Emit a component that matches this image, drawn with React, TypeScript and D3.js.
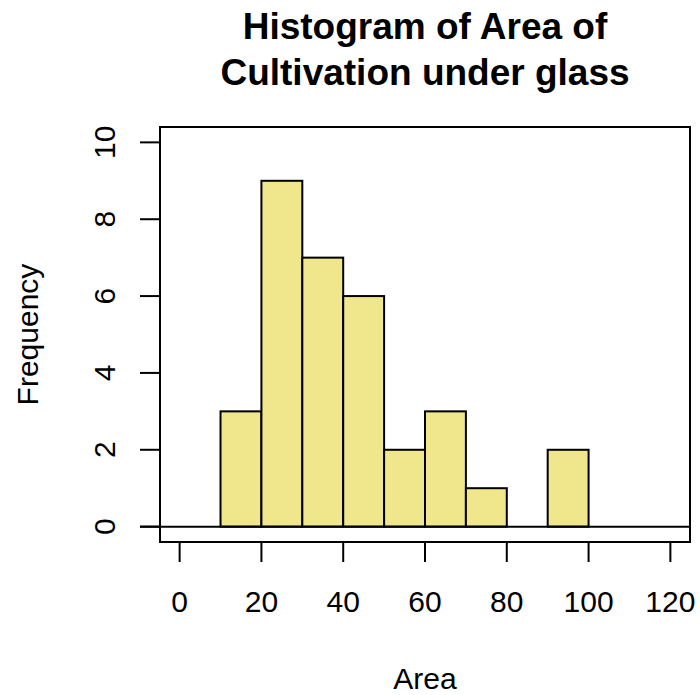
import React from "react";
import * as d3 from "d3";

// Histogram bins (lower edge, upper edge) and their counts
const binStarts = [10, 20, 30, 40, 50, 60, 70, 80, 90];
const binEnds = [20, 30, 40, 50, 60, 70, 80, 90, 100];
const counts = [3, 9, 7, 6, 2, 3, 1, 0, 2];

const xTicks = [0, 20, 40, 60, 80, 100, 120];
const yTicks = [0, 2, 4, 6, 8, 10];

const titleLines = ["Histogram of Area of", "Cultivation under glass"];
const xLabel = "Area";
const yLabel = "Frequency";

const W = 700;
const H = 695;
const plot = { left: 160, right: 690, top: 127, bottom: 542 };
const FONT = "'Liberation Sans', Arial, Helvetica, sans-serif";
const FILL = "#F0E68C";

export default function App() {
  // R-style 4% padding around the axis limits
  const xDom: [number, number] = [0, 120];
  const yDom: [number, number] = [0, 10];
  const xPad = (xDom[1] - xDom[0]) * 0.04;
  const yPad = (yDom[1] - yDom[0]) * 0.04;
  const x = d3
    .scaleLinear()
    .domain([xDom[0] - xPad, xDom[1] + xPad])
    .range([plot.left, plot.right]);
  const y = d3
    .scaleLinear()
    .domain([yDom[0] - yPad, yDom[1] + yPad])
    .range([plot.bottom, plot.top]);

  const bins = binStarts.map((s, i) => ({ x0: s, x1: binEnds[i], n: counts[i] }));
  const tickLen = 20;
  const cx = (plot.left + plot.right) / 2;
  const cy = (plot.top + plot.bottom) / 2;

  return (
    <svg
      width={W}
      height={H}
      style={{ position: "absolute", left: 0, top: 0, background: "#fff" }}
      fontFamily={FONT}
    >
      <rect x={0} y={0} width={W} height={H} fill="#fff" />

      {/* title */}
      <text x={cx} y={38.5} textAnchor="middle" fontSize={37} fontWeight="bold">
        {titleLines[0]}
      </text>
      <text x={cx} y={85} textAnchor="middle" fontSize={37} fontWeight="bold">
        {titleLines[1]}
      </text>

      {/* bars */}
      {bins
        .filter((b) => b.n > 0)
        .map((b, i) => (
          <rect
            key={i}
            x={x(b.x0)}
            y={y(b.n)}
            width={x(b.x1) - x(b.x0)}
            height={y(0) - y(b.n)}
            fill={FILL}
            stroke="#000"
            strokeWidth={2}
          />
        ))}

      {/* baseline at zero */}
      <line
        x1={plot.left - tickLen}
        x2={plot.right}
        y1={y(0)}
        y2={y(0)}
        stroke="#000"
        strokeWidth={2}
      />

      {/* plot box */}
      <rect
        x={plot.left}
        y={plot.top}
        width={plot.right - plot.left}
        height={plot.bottom - plot.top}
        fill="none"
        stroke="#000"
        strokeWidth={2}
      />

      {/* x axis */}
      <line
        x1={x(xTicks[0])}
        x2={x(xTicks[xTicks.length - 1])}
        y1={plot.bottom}
        y2={plot.bottom}
        stroke="#000"
        strokeWidth={2}
      />
      {xTicks.map((t) => (
        <g key={t}>
          <line
            x1={x(t)}
            x2={x(t)}
            y1={plot.bottom}
            y2={plot.bottom + tickLen}
            stroke="#000"
            strokeWidth={2}
          />
          <text x={x(t)} y={612} textAnchor="middle" fontSize={30}>
            {t}
          </text>
        </g>
      ))}

      {/* y axis */}
      {yTicks.map((t) => (
        <g key={t}>
          <line
            x1={plot.left - tickLen}
            x2={plot.left}
            y1={y(t)}
            y2={y(t)}
            stroke="#000"
            strokeWidth={2}
          />
          <text
            transform={`translate(115,${y(t)}) rotate(-90)`}
            textAnchor="middle"
            fontSize={30}
          >
            {t}
          </text>
        </g>
      ))}

      {/* axis titles */}
      <text x={cx} y={689} textAnchor="middle" fontSize={30}>
        {xLabel}
      </text>
      <text
        transform={`translate(38,${cy}) rotate(-90)`}
        textAnchor="middle"
        fontSize={30}
      >
        {yLabel}
      </text>
    </svg>
  );
}
